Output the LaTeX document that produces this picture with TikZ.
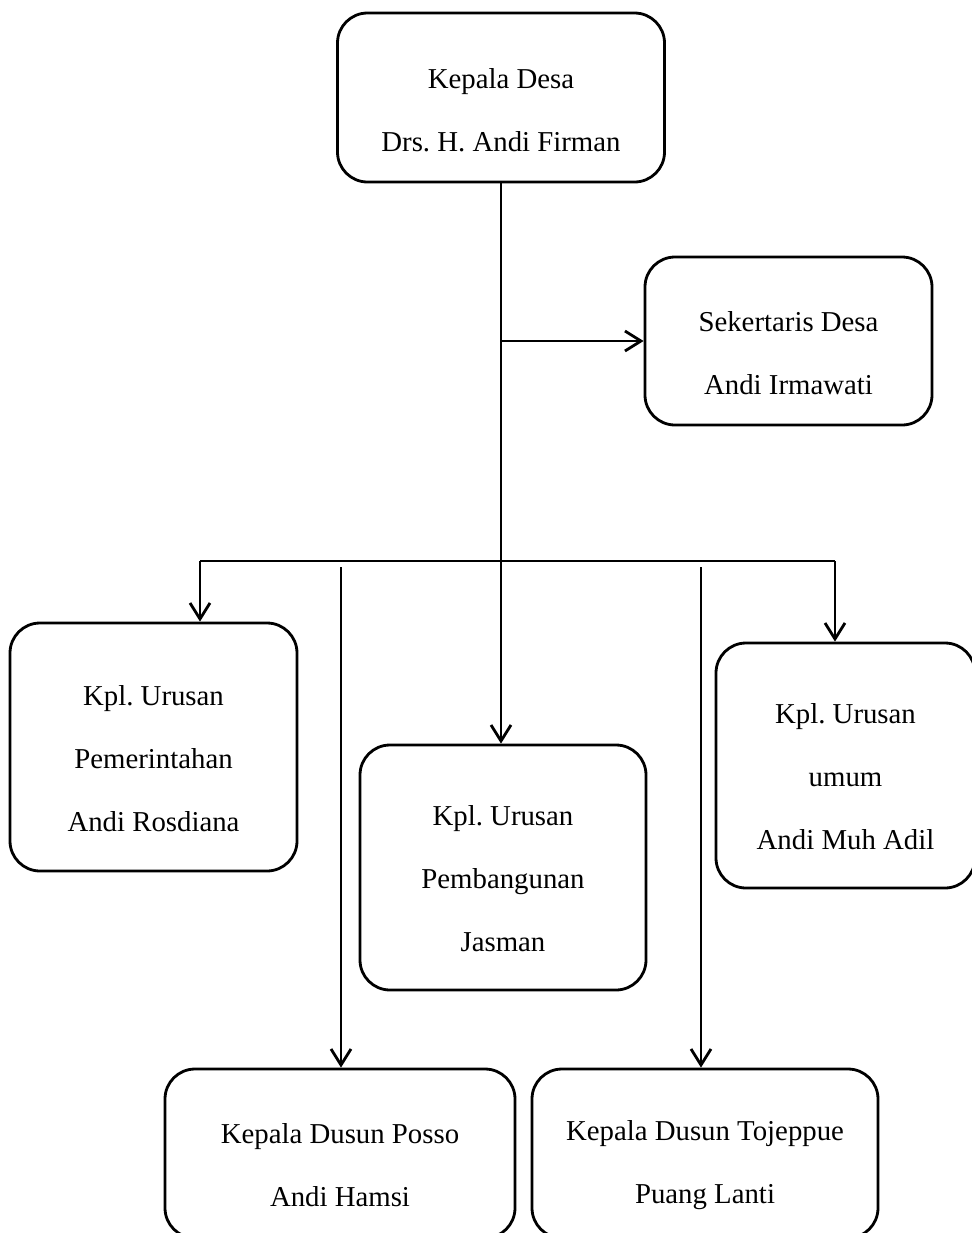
\documentclass[tikz,border=0pt]{standalone}
\usepackage{fontspec}
\setmainfont{Liberation Serif}
\usetikzlibrary{arrows.meta}
\frenchspacing

\begin{document}
\begin{tikzpicture}[x=0.5pt,y=-0.5pt,line width=1.4pt,
  every node/.style={font=\fontsize{14.4}{31.5}\selectfont,align=center},
  box/.style={draw,rounded corners=15pt,inner sep=0pt},
  link/.style={-{Straight Barb[length=8pt,width=10pt]}}]
  \useasboundingbox (0,0) rectangle (972,1233);

  % boxes
  \node[box,minimum width=163.5pt,minimum height=84.5pt] (kades) at (501,97.5) {};
  \node[box,minimum width=143.5pt,minimum height=84pt] (sekdes) at (788.5,341) {};
  \node[box,minimum width=143.5pt,minimum height=124pt] (pem) at (153.5,747) {};
  \node[box,minimum width=143pt,minimum height=122.5pt] (bang) at (503,867.5) {};
  \node[box,minimum width=129.5pt,minimum height=122.5pt] (umum) at (845.5,765.5) {};
  \node[box,minimum width=175pt,minimum height=84.5pt] (posso) at (340,1153.5) {};
  \node[box,minimum width=173pt,minimum height=84.5pt] (toje) at (705,1153.5) {};

  % texts
  \node (kadestxt) at (501,110) {Kepala Desa\\Drs. H. Andi Firman};
  \node (sekdestxt) at (788.5,353) {Sekertaris Desa\\Andi Irmawati};
  \node (pemtxt) at (153.5,759) {Kpl. Urusan\\Pemerintahan\\Andi Rosdiana};
  \node (bangtxt) at (503,879) {Kpl. Urusan\\Pembangunan\\Jasman};
  \node (umumtxt) at (845.5,777) {Kpl. Urusan\\umum\\Andi Muh Adil};
  \node (possotxt) at (340,1165) {Kepala Dusun Posso\\Andi Hamsi};
  \node (tojetxt) at (705,1165) {Kepala Dusun Tojeppue\\Puang Lanti};

  % lines
  \coordinate (sekjoin) at (501,341);
  \coordinate (hub) at (501,561);
  \coordinate (barL) at (200,561);
  \coordinate (barR) at (835,561);
  \coordinate (possotop) at (341,567);
  \coordinate (tojetop) at (701,567);
  \draw (kades) -- (hub);
  \draw[link] (sekjoin) -- (sekdes);
  \draw (barL) -- (barR);
  \draw[link] (barL) -- (barL |- pem.north);
  \draw[link] (hub) -- (hub |- bang.north);
  \draw[link] (barR) -- (barR |- umum.north);
  \draw[link] (possotop) -- (possotop |- posso.north);
  \draw[link] (tojetop) -- (tojetop |- toje.north);
\end{tikzpicture}
\end{document}
